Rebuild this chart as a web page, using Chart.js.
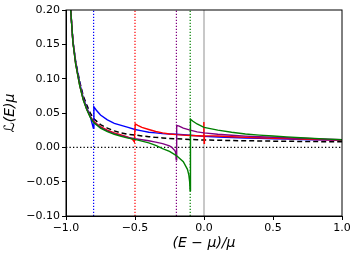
<!DOCTYPE html>
<html>
<head>
<meta charset="utf-8">
<script src="https://cdn.jsdelivr.net/npm/chart.js@4.4.0/dist/chart.umd.min.js"></script>
<style>
  html, body { margin: 0; padding: 0; background: #ffffff; }
  #wrap { width: 357px; height: 258px; }
</style>
</head>
<body>
<div id="wrap"><canvas id="lossChart"></canvas></div>
<script>
// Values.
var thresholds = [-0.8, -0.5, -0.2, -0.1];
var thresholdColors = ["#0000ff", "#ff0000", "#800080", "#008000"];

var baseX = [-0.975, -0.966, -0.95, -0.93, -0.9, -0.875, -0.85, -0.825, -0.8, -0.75, -0.7, -0.65, -0.6, -0.55, -0.5, -0.45, -0.4, -0.35, -0.3, -0.25, -0.2, -0.15, -0.1, -0.05, 0, 0.1, 0.2, 0.3, 0.4, 0.5, 0.6, 0.7, 0.8, 0.9, 1.0];
var baseY = [0.27, 0.20, 0.155, 0.125, 0.095, 0.075, 0.062, 0.050, 0.042, 0.033, 0.028, 0.024, 0.021, 0.019, 0.018, 0.0165, 0.0155, 0.0145, 0.0137, 0.013, 0.0125, 0.012, 0.0115, 0.011, 0.0107, 0.0103, 0.0099, 0.0096, 0.0093, 0.009, 0.0088, 0.0086, 0.0084, 0.0082, 0.008];

var blueX = [-0.975, -0.966, -0.95, -0.93, -0.9, -0.875, -0.85, -0.825, -0.815, -0.802, -0.798, -0.78, -0.75, -0.7, -0.65, -0.6, -0.55, -0.5, -0.45, -0.4, -0.35, -0.3, -0.25, -0.2, -0.1, 0, 0.1, 0.2, 0.3, 0.4, 0.5, 0.6, 0.7, 0.8, 0.9, 1.0];
var blueY = [0.27, 0.20, 0.155, 0.124, 0.093, 0.072, 0.058, 0.046, 0.038, 0.028, 0.059, 0.054, 0.047, 0.040, 0.035, 0.032, 0.029, 0.026, 0.024, 0.022, 0.021, 0.020, 0.0195, 0.019, 0.0175, 0.016, 0.015, 0.0143, 0.0137, 0.013, 0.0125, 0.012, 0.0115, 0.011, 0.0106, 0.0102];

var redX = [-0.975, -0.966, -0.95, -0.93, -0.9, -0.875, -0.85, -0.825, -0.8, -0.75, -0.7, -0.65, -0.6, -0.55, -0.52, -0.505, -0.498, -0.48, -0.45, -0.4, -0.35, -0.3, -0.25, -0.2, -0.15, -0.1, -0.05, -0.003, -0.001, 0.001, 0.003, 0.1, 0.2, 0.3, 0.4, 0.5, 0.6, 0.7, 0.8, 0.9, 1.0];
var redY = [0.27, 0.20, 0.154, 0.122, 0.09, 0.07, 0.056, 0.045, 0.038, 0.030, 0.025, 0.021, 0.018, 0.015, 0.012, 0.008, 0.034, 0.032, 0.029, 0.026, 0.023, 0.021, 0.0195, 0.0185, 0.0178, 0.0172, 0.0168, 0.0165, 0.037, 0.006, 0.017, 0.0165, 0.0155, 0.0147, 0.014, 0.0133, 0.0127, 0.0121, 0.0115, 0.011, 0.0105];

var purpleX = [-0.975, -0.966, -0.95, -0.93, -0.9, -0.875, -0.85, -0.825, -0.8, -0.75, -0.7, -0.65, -0.6, -0.55, -0.5, -0.45, -0.4, -0.35, -0.3, -0.25, -0.234, -0.21, -0.205, -0.201, -0.198, -0.18, -0.15, -0.1, -0.05, 0, 0.1, 0.2, 0.3, 0.4, 0.5, 0.6, 0.7, 0.8, 0.9, 1.0];
var purpleY = [0.27, 0.20, 0.154, 0.122, 0.09, 0.07, 0.056, 0.045, 0.037, 0.029, 0.024, 0.020, 0.017, 0.0145, 0.0125, 0.011, 0.0095, 0.0075, 0.0055, 0.002, 0.0, -0.005, -0.008, -0.018, 0.032, 0.031, 0.028, 0.025, 0.0225, 0.021, 0.019, 0.0175, 0.0163, 0.0155, 0.0147, 0.014, 0.0132, 0.0125, 0.0118, 0.011];

var greenX = [-0.975, -0.966, -0.95, -0.93, -0.9, -0.875, -0.85, -0.825, -0.8, -0.75, -0.7, -0.65, -0.6, -0.55, -0.5, -0.45, -0.4, -0.35, -0.3, -0.25, -0.2, -0.15, -0.12, -0.11, -0.104, -0.101, -0.098, -0.08, -0.05, 0, 0.1, 0.2, 0.3, 0.4, 0.5, 0.6, 0.7, 0.8, 0.9, 1.0];
var greenY = [0.27, 0.20, 0.153, 0.121, 0.089, 0.069, 0.055, 0.044, 0.036, 0.028, 0.023, 0.019, 0.016, 0.0135, 0.0115, 0.009, 0.0065, 0.003, -0.002, -0.006, -0.012, -0.021, -0.032, -0.04, -0.05, -0.063, 0.041, 0.038, 0.034, 0.029, 0.025, 0.022, 0.0195, 0.0178, 0.0165, 0.0152, 0.014, 0.013, 0.012, 0.011];

var yRange = [-0.1, 0.2];

// Pairs x/y arrays into {x, y} points for the linear scale.
function toPoints(xs, ys) {
  var pts = [];
  for (var i = 0; i < xs.length; i++) {
    pts.push({ x: xs[i], y: ys[i] });
  }
  return pts;
}

function curve(xs, ys, color, order) {
  return {
    data: toPoints(xs, ys),
    borderColor: color,
    borderWidth: 1.4,
    pointRadius: 0,
    tension: 0,
    clip: 0,
    order: order
  };
}

var datasets = [
  curve(greenX, greenY, "#008000", 1),
  curve(purpleX, purpleY, "#800080", 2),
  curve(redX, redY, "#ff0000", 3),
  curve(blueX, blueY, "#0000ff", 4),
  {
    data: toPoints(baseX, baseY),
    borderColor: "#000000",
    borderWidth: 1.5,
    borderDash: [5, 3],
    pointRadius: 0,
    clip: 0,
    order: 5
  },
  // horizontal dotted line at zero
  {
    data: [{ x: -1, y: 0 }, { x: 1, y: 0 }],
    borderColor: "#000000",
    borderWidth: 1.3,
    borderDash: [1.3, 2.2],
    pointRadius: 0,
    clip: 0,
    order: 6
  },
  // solid gray line at E = mu
  {
    data: [{ x: 0, y: yRange[0] }, { x: 0, y: yRange[1] }],
    borderColor: "#c8c8c8",
    borderWidth: 2,
    pointRadius: 0,
    clip: 0,
    order: 8
  }
];

// dotted threshold lines
thresholds.forEach(function (t, i) {
  datasets.push({
    data: [{ x: t, y: yRange[0] }, { x: t, y: yRange[1] }],
    borderColor: thresholdColors[i],
    borderWidth: 1.2,
    borderDash: [1.2, 1.8],
    pointRadius: 0,
    clip: 0,
    order: 7
  });
});

// Draws the top and right spines of the frame.
var framePlugin = {
  id: "frame",
  afterDatasetsDraw: function (chart) {
    var a = chart.chartArea;
    var ctx = chart.ctx;
    ctx.save();
    ctx.strokeStyle = "#000000";
    ctx.lineWidth = 1;
    ctx.strokeRect(a.left, a.top, a.right - a.left, a.bottom - a.top);
    ctx.restore();
  }
};

function fmt(v, digits) {
  if (Math.abs(v) < 1e-9) v = 0;
  return v.toFixed(digits).replace("-", "\u2212");
}

var config = {
  type: "line",
  data: { datasets: datasets },
  plugins: [framePlugin],
  options: {
    responsive: false,
    animation: false,
    layout: { padding: { top: 10, right: 15, left: 2, bottom: 2 } },
    plugins: { legend: { display: false }, tooltip: { enabled: false } },
    scales: {
      x: {
        type: "linear",
        min: -1,
        max: 1,
        afterFit: function (scale) { scale.height = 40; },
        ticks: {
          stepSize: 0.5,
          color: "#000000",
          font: { family: "DejaVu Sans", size: 11 },
          padding: 2,
          maxRotation: 0,
          callback: function (v) { return fmt(v, 1); }
        },
        grid: { drawOnChartArea: false, tickLength: 4, color: "#000000" },
        border: { color: "#000000", width: 1 },
        title: {
          display: true,
          text: "(E \u2212 \u03bc)/\u03bc",
          color: "#000000",
          font: { family: "DejaVu Sans", size: 14, style: "italic" },
          padding: { top: 0, bottom: 4 }
        }
      },
      y: {
        type: "linear",
        min: yRange[0],
        max: yRange[1],
        afterFit: function (scale) { scale.width = 64; },
        ticks: {
          stepSize: 0.05,
          color: "#000000",
          font: { family: "DejaVu Sans", size: 11 },
          padding: 2,
          callback: function (v) { return fmt(v, 2); }
        },
        grid: { drawOnChartArea: false, tickLength: 4, color: "#000000" },
        border: { color: "#000000", width: 1 },
        title: {
          display: true,
          text: "\u2112(E)\u03bc",
          color: "#000000",
          font: { family: "DejaVu Sans", size: 14, style: "italic" },
          padding: { top: 0, bottom: 0 }
        }
      }
    }
  }
};

var canvas = document.getElementById("lossChart");
canvas.width = 357;
canvas.height = 258;
var myChart = new Chart(canvas, config);
</script>
</body>
</html>
